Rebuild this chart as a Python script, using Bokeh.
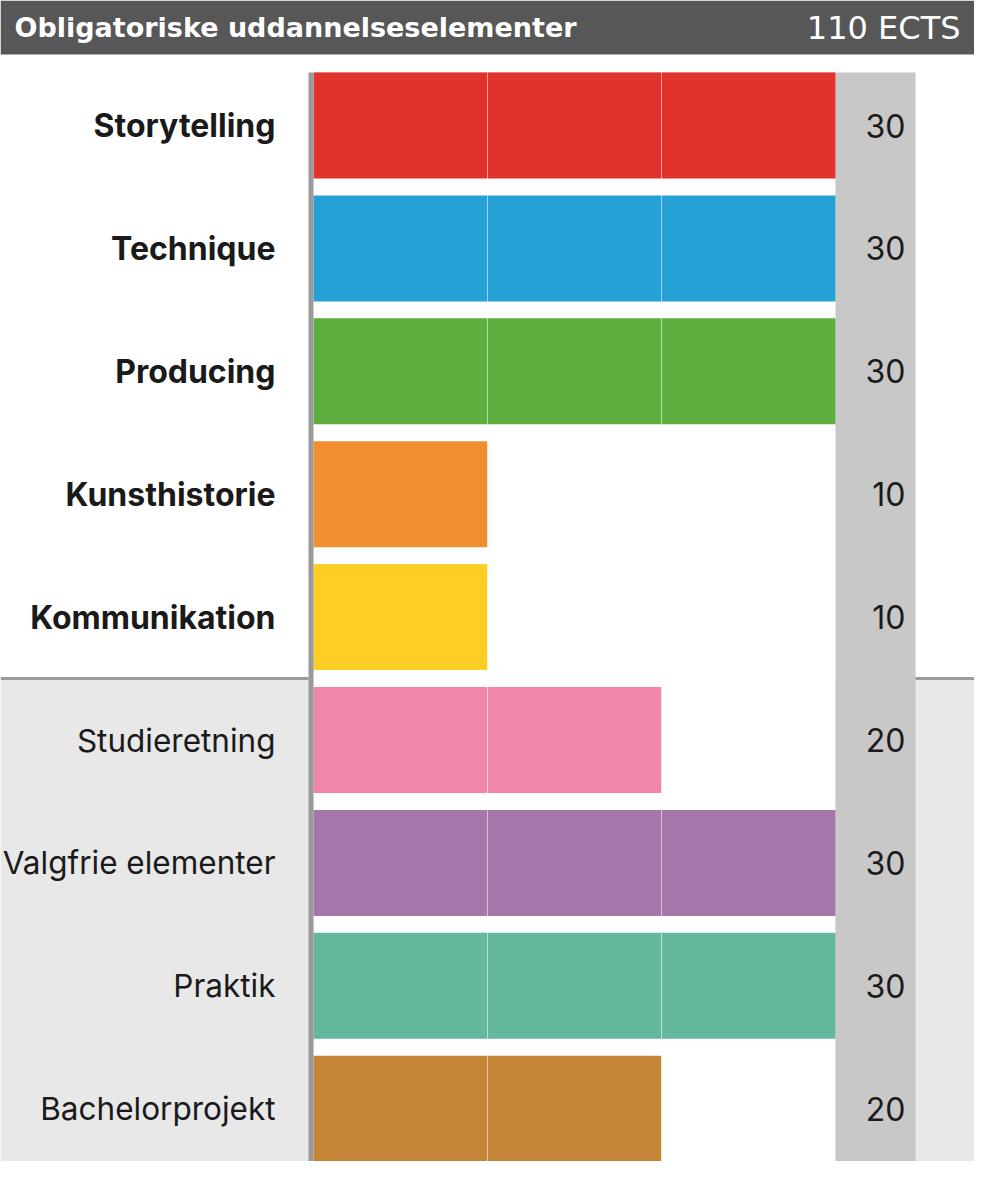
from bokeh.plotting import figure
from bokeh.models import Range1d, ColumnDataSource
from bokeh.core.properties import value
from bokeh.embed import file_html
from bokeh.resources import INLINE

# ---------------- data ----------------
categories = ["Storytelling", "Technique", "Producing", "Kunsthistorie", "Kommunikation",
              "Studieretning", "Valgfrie elementer", "Praktik", "Bachelorprojekt"]
ects = [30, 30, 30, 10, 10, 20, 30, 30, 20]
bar_colors = ["#E2322C", "#25A1D5", "#5DAD3F", "#F18E2D", "#FDCE23",
              "#F087A8", "#A577AB", "#63B89D", "#C58536"]
mandatory = [True, True, True, True, True, False, False, False, False]
header_title = "Obligatoriske uddannelseselementer"
header_total = "110 ECTS"
grid_values = [10, 20]
x_max = 30

# ---------------- layout (pixel geometry) ----------------
W, H = 974, 1161
FONT = "Inter"
HFONT = "DejaVu Sans"
plot_left_px = 313
plot_right_px = 835
px_per_unit = (plot_right_px - plot_left_px) / x_max
pitch_px = 122.9
row0_center_px = 125.0
bar_h = 106 / pitch_px


def ux(px):
    return (px - plot_left_px) / px_per_unit


def uy(py):
    return (py - row0_center_px) / pitch_px


x0, x1 = ux(0), ux(W)
y_top, y_bot = uy(0), uy(H)

p = figure(width=W, height=H, output_backend="svg", toolbar_location=None,
           x_range=Range1d(x0, x1), y_range=Range1d(y_bot, y_top),
           min_border=0, outline_line_color=None, background_fill_color="white",
           border_fill_color="white")
p.axis.visible = False
p.xgrid.visible = False
p.ygrid.visible = False

n = len(categories)
ys = list(range(n))
plot_top = -bar_h / 2
plot_bot = (n - 1) + bar_h / 2
sep_y = 4.5
col_right = ux(915)
axis_left = ux(308)

# backgrounds
p.quad(left=x0, right=x1, top=sep_y, bottom=y_bot, color="#E8E8E8", line_color=None)
p.quad(left=0, right=x_max, top=plot_top, bottom=plot_bot, color="white", line_color=None)
p.quad(left=x_max, right=col_right, top=plot_top, bottom=plot_bot, color="#C8C8C8", line_color=None)
p.segment(x0=[0], x1=[x_max], y0=[plot_top], y1=[plot_top], line_color="#DADADA", line_width=1)

# separator
p.segment(x0=[x0, col_right], x1=[axis_left, x1], y0=[sep_y, sep_y], y1=[sep_y, sep_y],
          line_color="#9A9A9A", line_width=3)

# header
p.quad(left=x0, right=x1, top=y_top, bottom=uy(54), color="#575757", line_color=None)
p.text(x=[ux(14)], y=[uy(27)], text=[header_title],
       text_color="white", text_font=value(HFONT), text_font_style="bold",
       text_font_size="27px", text_align="left", text_baseline="middle")
p.text(x=[ux(960)], y=[uy(27)], text=[header_total],
       text_color="white", text_font=value(HFONT), text_font_size="32px",
       text_align="right", text_baseline="middle")

# bars
src = ColumnDataSource(dict(y=ys, v=ects, c=bar_colors, cat=categories,
                            lab=[str(e) for e in ects]))
p.hbar(y="y", left=0, right="v", height=bar_h, fill_color="c", line_color=None, source=src)

# grid lines over bars
for g in grid_values:
    p.segment(x0=[g], x1=[g], y0=[plot_top], y1=[plot_bot], line_color="white",
              line_alpha=0.55, line_width=1)

# axis line
p.quad(left=axis_left, right=0, top=plot_top, bottom=plot_bot, color="#9A9A9A", line_color=None)

# category labels
bold_src = ColumnDataSource(dict(y=[y for y, m in zip(ys, mandatory) if m],
                                 t=[c for c, m in zip(categories, mandatory) if m]))
reg_src = ColumnDataSource(dict(y=[y for y, m in zip(ys, mandatory) if not m],
                                t=[c for c, m in zip(categories, mandatory) if not m]))
lab_x = ux(275)
p.text(x=lab_x, y="y", text="t", source=bold_src, text_font=value(FONT),
       text_font_style="bold", text_font_size="32px", text_color="#1A1A1A",
       text_align="right", text_baseline="middle")
p.text(x=lab_x, y="y", text="t", source=reg_src, text_font=value(FONT),
       text_font_size="31.5px", text_color="#1A1A1A",
       text_align="right", text_baseline="middle")

# value labels
p.text(x=ux(905), y="y", text="lab", source=src, text_font=value(FONT),
       text_font_size="32px", text_color="#1A1A1A", text_align="right", text_baseline="middle")

open("out.html", "w").write(file_html(p, INLINE))
